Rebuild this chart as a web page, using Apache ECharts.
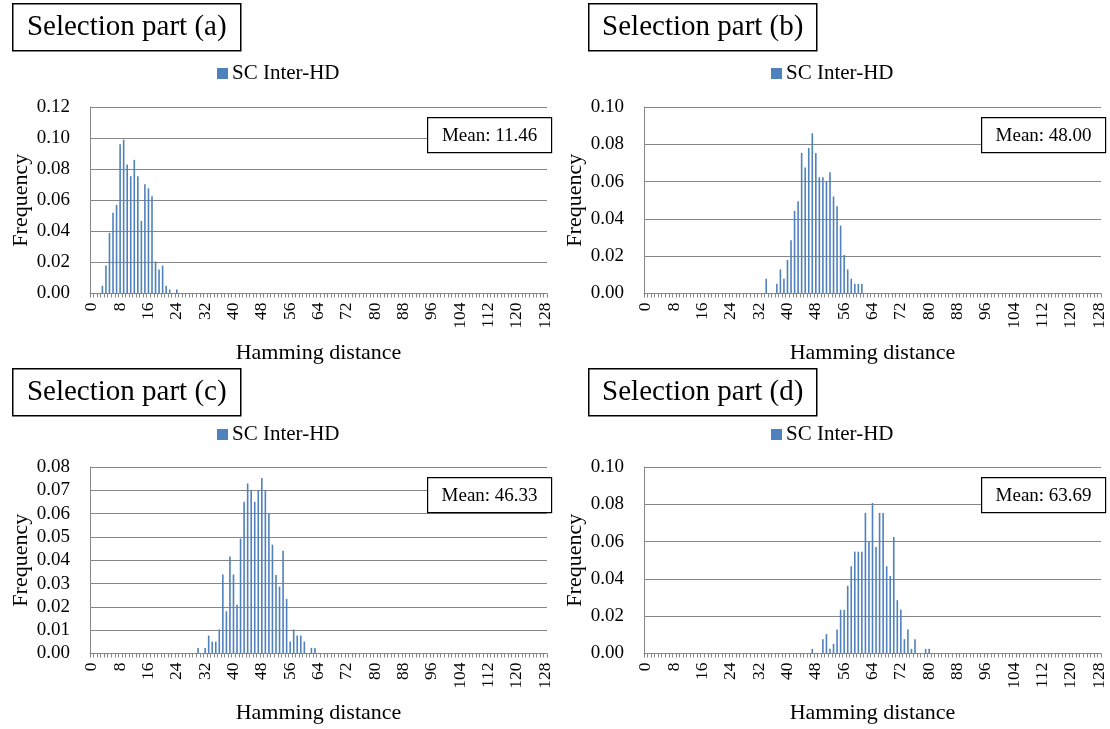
<!DOCTYPE html>
<html>
<head>
<meta charset="utf-8">
<script src="https://cdn.jsdelivr.net/npm/echarts@6/dist/echarts.min.js"></script>
<style>html,body{margin:0;padding:0;background:#fff}#c{width:1110px;height:729px}</style>
</head>
<body>
<div id="c"></div>
<script>
// Hamming distance categories 0..128
var categories = [];
for (var i = 0; i <= 128; i++) categories.push(String(i));

// Panel (a)
var hdA = [3,4,5,6,7,8,9,10,11,12,13,14,15,16,17,18,19,20,21,22,24];
var freqA = [0.005,0.018,0.039,0.052,0.057,0.096,0.099,0.083,0.0755,0.086,0.0755,0.0467,0.0703,0.0677,0.0626,0.0206,0.0155,0.018,0.005,0.0026,0.0026];
// Panel (b)
var hdB = [34,37,38,39,40,41,42,43,44,45,46,47,48,49,50,51,52,53,54,55,56,57,58,59,60,61];
var freqB = [0.0079,0.0052,0.0129,0.0079,0.018,0.0286,0.0443,0.0495,0.0754,0.0675,0.078,0.0859,0.0754,0.0623,0.0623,0.0598,0.065,0.052,0.0468,0.0364,0.0207,0.0129,0.0079,0.0052,0.0052,0.0052];
// Panel (c)
var hdC = [30,32,33,34,35,36,37,38,39,40,41,42,43,44,45,46,47,48,49,50,51,52,53,54,55,56,57,58,59,60,62,63];
var freqC = [0.0024,0.0024,0.0077,0.0051,0.0051,0.0103,0.0339,0.0181,0.0416,0.0339,0.0209,0.0493,0.0651,0.0729,0.0701,0.0651,0.0701,0.0753,0.0701,0.0599,0.0467,0.0337,0.0287,0.0441,0.0234,0.0051,0.0103,0.0077,0.0077,0.0051,0.0024,0.0024];
// Panel (d)
var hdD = [47,50,51,52,53,54,55,56,57,58,59,60,61,62,63,64,65,66,67,68,69,70,71,72,73,74,75,76,79,80];
var freqD = [0.0025,0.0077,0.0104,0.0025,0.0052,0.0129,0.0234,0.0234,0.0363,0.0468,0.0546,0.0546,0.0546,0.0754,0.0598,0.0807,0.0571,0.0754,0.0754,0.0468,0.0416,0.0625,0.0286,0.0234,0.0077,0.0129,0.0025,0.0077,0.0025,0.0025];

var panelTitles = ['Selection part (a)','Selection part (b)','Selection part (c)','Selection part (d)'];
var meanLabels = ['Mean: 11.46','Mean: 48.00','Mean: 46.33','Mean: 63.69'];
var yMax = [0.12, 0.10, 0.08, 0.10];
var yStep = [0.02, 0.02, 0.01, 0.02];
var seriesName = 'SC Inter-HD';
var xName = 'Hamming distance';
var yName = 'Frequency';

var HD = [hdA, hdB, hdC, hdD];
var FR = [freqA, freqB, freqC, freqD];

var FONT = "'Liberation Serif','Times New Roman',serif";
var GRAY = '#868686';
var BLUE = '#4F81BD';

// layout
var colX = [0, 554];
var rowY = [0, 360];
var grids = [], xAxes = [], yAxes = [], series = [], legends = [], graphics = [];

for (var p = 0; p < 4; p++) {
  var cx = colX[p % 2], ry = rowY[Math.floor(p / 2)];
  grids.push({left: 90 + cx, top: 107 + ry, width: 457, height: 186.5});
  xAxes.push({
    type: 'category', gridIndex: p, data: categories, boundaryGap: true,
    axisLine: {lineStyle: {color: GRAY, width: 1}},
    axisTick: {show: true, interval: 0, length: 4, lineStyle: {color: GRAY}},
    axisLabel: {interval: 7, rotate: 90, margin: 9, color: '#000', fontFamily: FONT, fontSize: 17.5},
    splitLine: {show: false},
    name: xName, nameLocation: 'middle', nameGap: 49,
    nameTextStyle: {color: '#000', fontFamily: FONT, fontSize: 22}
  });
  yAxes.push({
    type: 'value', gridIndex: p, min: 0, max: yMax[p], interval: yStep[p],
    axisLine: {show: true, lineStyle: {color: GRAY, width: 1}},
    axisTick: {show: false},
    axisLabel: {margin: 20, color: '#000', fontFamily: FONT, fontSize: 19,
      formatter: function (v) { return v.toFixed(2); }},
    splitLine: {show: true, lineStyle: {color: GRAY, width: 1}},
    name: yName, nameLocation: 'middle', nameRotate: 90, nameGap: 58,
    nameTextStyle: {color: '#000', fontFamily: FONT, fontSize: 22}
  });
  series.push({
    name: seriesName, type: 'bar', xAxisIndex: p, yAxisIndex: p,
    barWidth: 1.6, itemStyle: {color: BLUE},
    data: HD[p].map(function (h, k) { return [h, FR[p][k]]; }),
    animation: false
  });
  legends.push({
    data: [seriesName], left: 212 + cx, top: 58 + ry + (p >= 2 ? 1 : 0),
    icon: 'rect', itemWidth: 11, itemHeight: 11, itemGap: 6,
    textStyle: {color: '#000', fontFamily: FONT, fontSize: 21, padding: [0, 0, 0, -1]}
  });
  var ty = (p >= 2) ? 368 : 3;
  graphics.push({
    type: 'group', left: 12 + cx + (p % 2 ? 22 : 0), top: ty, z: 100,
    children: [
      {type: 'rect', z: 100, shape: {x: 0, y: 0, width: 228, height: 47},
       style: {fill: '#fff', stroke: '#000', lineWidth: 1.5}},
      {type: 'text', z: 101, x: 114, y: 24,
       style: {text: panelTitles[p], fill: '#000', font: '29px ' + FONT, align: 'center', verticalAlign: 'middle'}}
    ]
  });
  graphics.push({
    type: 'group', left: 427 + cx, top: 117 + ry, z: 100,
    children: [
      {type: 'rect', z: 100, shape: {x: 0, y: 0, width: 124, height: 35},
       style: {fill: '#fff', stroke: '#000', lineWidth: 1.2}},
      {type: 'text', z: 101, x: 62, y: 18,
       style: {text: meanLabels[p], fill: '#000', font: '19px ' + FONT, align: 'center', verticalAlign: 'middle'}}
    ]
  });
}

var chart = echarts.init(document.getElementById('c'), null, {renderer: 'canvas'});
chart.setOption({
  backgroundColor: '#fff',
  animation: false,
  grid: grids,
  xAxis: xAxes,
  yAxis: yAxes,
  legend: legends,
  series: series,
  graphic: graphics
});
</script>
</body>
</html>
